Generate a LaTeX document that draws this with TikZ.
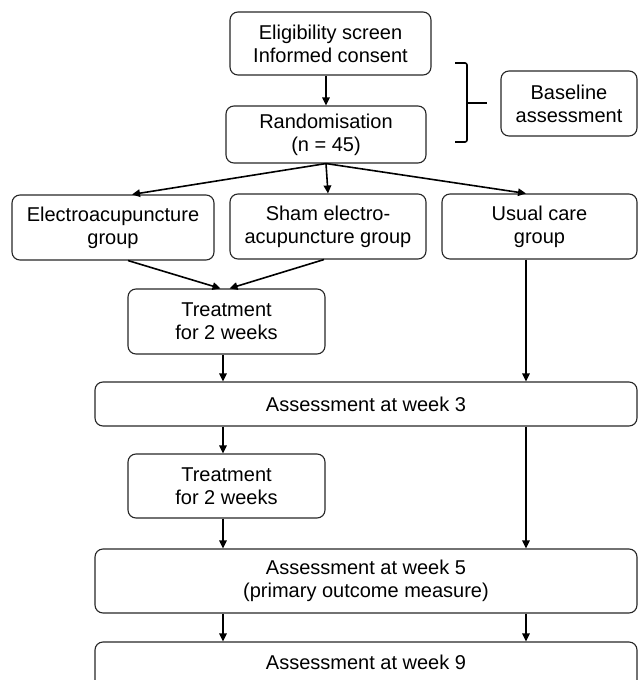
\documentclass[tikz,border=0pt]{standalone}
\usepackage{fontspec}
\setmainfont{Liberation Sans}
\usetikzlibrary{arrows.meta,calc}
\begin{document}
\begin{tikzpicture}[x=1pt,y=-1pt,
  box/.style={draw=black!85, line width=1.1pt, rounded corners=8pt, inner sep=0pt,
              align=center, font=\fontsize{20}{23}\selectfont},
  arr/.style={line width=1.6pt, -{Triangle[length=8pt,width=7.5pt]}},
  ln/.style={line width=1.6pt},
  bracestyle/.style={line width=1.6pt, rounded corners=2pt}
  ]
\useasboundingbox (0,0) rectangle (638,680);
\clip (0,0) rectangle (638,680);
% columns
\coordinate (colL) at (223,0);
\coordinate (colR) at (526,0);
% nodes
\node[box, minimum width=201pt, minimum height=63pt] (elig) at (330.5,43.5) {Eligibility screen\\Informed consent};
\node[box, minimum width=200pt, minimum height=57pt] (rand) at (326,134.5) {Randomisation\\(n = 45)};
\node[box, minimum width=136pt, minimum height=65pt] (base) at (569,103.5) {Baseline\\assessment};
\node[box, minimum width=202pt, minimum height=65pt] (electro) at (113,227.5) {Electroacupuncture\\group};
\node[box, minimum width=196pt, minimum height=65pt] (sham) at (328,226.5) {Sham electro-\\acupuncture group};
\node[box, minimum width=195pt, minimum height=65pt] (usual) at (539.5,226.5) {Usual care\\group};
\node[box, minimum width=197pt, minimum height=65pt] (treatA) at (226.5,321.5) {Treatment\\for 2 weeks};
\node[box, minimum width=542pt, minimum height=44pt] (wk3) at (366,404) {Assessment at week 3};
\node[box, minimum width=197pt, minimum height=64pt] (treatB) at (226.5,486) {Treatment\\for 2 weeks};
\node[box, minimum width=542pt, minimum height=64pt] (wk5) at (366,581) {Assessment at week 5\\(primary outcome measure)};
\node[box, minimum width=542pt, minimum height=64pt] (wk9) at (366,674) {Assessment at week 9\\\mbox{}};
% brace
\coordinate (bt) at (455,63);
\coordinate (bb) at (455,142);
\coordinate (bm) at (467,103);
\coordinate (btip) at (487,103);
\draw[bracestyle] (bt) -- (467,63) -- (467,142) -- (bb);
\draw[ln] (bm) -- (btip);
% connectors
\draw[arr] (elig.south -| rand.north) -- (rand.north);
\draw[arr] (rand.south) -- ($(electro.north)+(19,0)$);
\draw[arr] (rand.south) -- (sham.north);
\draw[arr] (rand.south) -- (usual.north -| colR);
\draw[arr] ($(electro.south)+(15,0)$) -- ($(treatA.north)+(-6,0)$);
\draw[arr] ($(sham.south)+(-4,0)$) -- ($(treatA.north)+(3,0)$);
\draw[arr] (treatA.south -| colL) -- (wk3.north -| colL);
\draw[arr] (usual.south -| colR) -- (wk3.north -| colR);
\draw[arr] (wk3.south -| colL) -- (treatB.north -| colL);
\draw[arr] (treatB.south -| colL) -- (wk5.north -| colL);
\draw[arr] (wk3.south -| colR) -- (wk5.north -| colR);
\draw[arr] (wk5.south -| colL) -- (wk9.north -| colL);
\draw[arr] (wk5.south -| colR) -- (wk9.north -| colR);
\end{tikzpicture}
\end{document}
